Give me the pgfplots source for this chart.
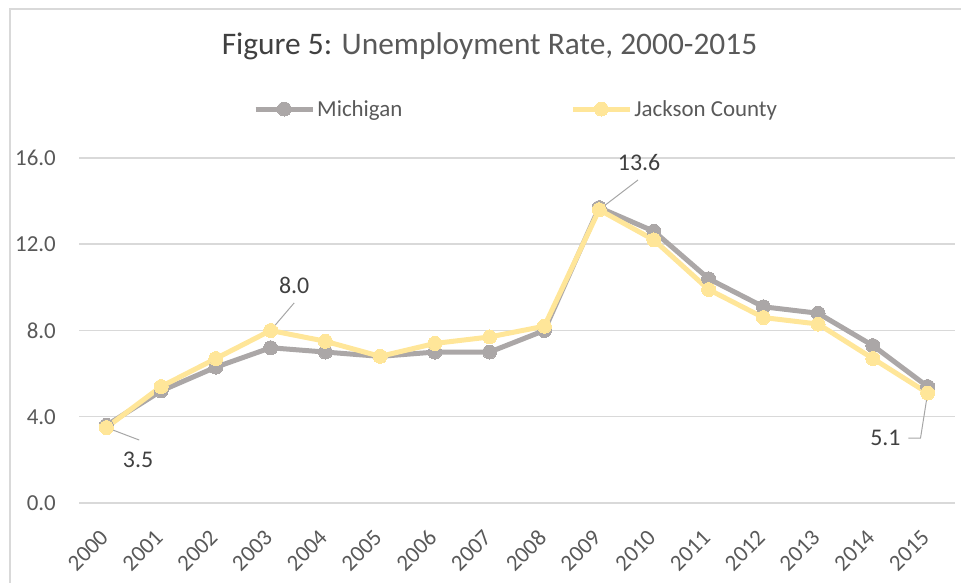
\documentclass[border=0pt]{standalone}
\usepackage{pgfplots}
\pgfplotsset{compat=1.18}
\usepackage{fontspec}
\setmainfont{Carlito}
\definecolor{mich}{HTML}{ABA7A7}
\definecolor{jack}{HTML}{FFE699}
\definecolor{gridc}{HTML}{D9D9D9}
\definecolor{tickc}{HTML}{595959}
\definecolor{titc}{HTML}{404040}
\definecolor{labc}{HTML}{404040}
\definecolor{leadc}{HTML}{A6A6A6}
\begin{document}
\begin{tikzpicture}
\draw[gridc, line width=1.5bp] (10bp,0bp) -- (10bp,574bp) -- (961bp,574bp);
\begin{axis}[
  at={(79bp,80bp)}, anchor=south west,
  scale only axis, width=876bp, height=345bp,
  xmin=-0.5, xmax=15.5, ymin=0, ymax=16,
  axis line style={draw=none},
  major tick length=0pt,
  ymajorgrids, grid style={gridc, line width=1.5bp},
  xtick={0,...,15},
  xticklabels={2000,2001,2002,2003,2004,2005,2006,2007,2008,2009,2010,2011,2012,2013,2014,2015},
  ytick={0,4,8,12,16},
  /pgf/number format/fixed,
  /pgf/number format/fixed zerofill,
  /pgf/number format/precision=1,
  /pgf/number format/assume math mode=true,
  yticklabel style={font=\fontsize{23}{27}\selectfont, text=tickc, anchor=east, inner sep=0pt, xshift=-23bp},
  xticklabel style={font=\fontsize{23}{27}\selectfont, text=tickc, inner sep=0pt, xshift=-2bp, yshift=-31bp, rotate=45, anchor=east},
  title={\textcolor{titc}{Figure 5:} Unemployment Rate, 2000-2015},
  title style={font=\fontsize{31.5}{36}\selectfont, text=tickc, at={(0.4686,1.284)}, anchor=base, inner sep=0pt},
  legend columns=2,
  legend style={at={(0.1986,1.142)}, anchor=west, draw=none, fill=none, inner sep=0pt,
    font=\fontsize{23}{27}\selectfont, text=tickc,
    nodes={inner sep=2bp},
    /tikz/every even column/.append style={column sep=166bp}},
  legend image code/.code={
    \draw[#1, mark=none] (0bp,0bp) -- (57bp,0bp);
    \draw[#1, only marks] plot coordinates {(28.5bp,0bp)};
  },
  clip=false,
]
\addplot[mich, line width=5bp, mark=*, mark size=7bp, mark options={fill=mich, draw=mich, line width=0pt}] coordinates {
(0,3.6) (1,5.2) (2,6.3) (3,7.2) (4,7.0) (5,6.8) (6,7.0) (7,7.0) (8,8.0) (9,13.7) (10,12.6) (11,10.4) (12,9.1) (13,8.8) (14,7.3) (15,5.4)};
\addlegendentry{Michigan}
\addplot[jack, line width=5bp, mark=*, mark size=7bp, mark options={fill=jack, draw=jack, line width=0pt}] coordinates {
(0,3.5) (1,5.4) (2,6.7) (3,8.0) (4,7.5) (5,6.8) (6,7.4) (7,7.7) (8,8.2) (9,13.6) (10,12.2) (11,9.9) (12,8.6) (13,8.3) (14,6.7) (15,5.1)};
\addlegendentry{Jackson County}
\draw[leadc, line width=1bp] (axis cs:3.43,9.28) -- (axis cs:3,8.0);
\draw[leadc, line width=1bp] (axis cs:9.71,14.98) -- (axis cs:9,13.6);
\draw[leadc, line width=1bp] (axis cs:0.60,2.92) -- (axis cs:0,3.5);
\draw[leadc, line width=1bp] (axis cs:14.65,3.01) -- (axis cs:14.87,3.01) -- (axis cs:15,5.1);
\node[font=\fontsize{24}{28}\selectfont, text=labc, inner sep=0pt] at (axis cs:3.43,10.11) {8.0};
\node[font=\fontsize{24}{28}\selectfont, text=labc, inner sep=0pt] at (axis cs:9.73,15.81) {13.6};
\node[font=\fontsize{24}{28}\selectfont, text=labc, inner sep=0pt] at (axis cs:0.58,1.99) {3.5};
\node[font=\fontsize{24}{28}\selectfont, text=labc, inner sep=0pt] at (axis cs:14.23,3.01) {5.1};
\end{axis}
\pgfresetboundingbox
\useasboundingbox (0bp,0bp) rectangle (961bp,583bp);
\end{tikzpicture}
\end{document}
